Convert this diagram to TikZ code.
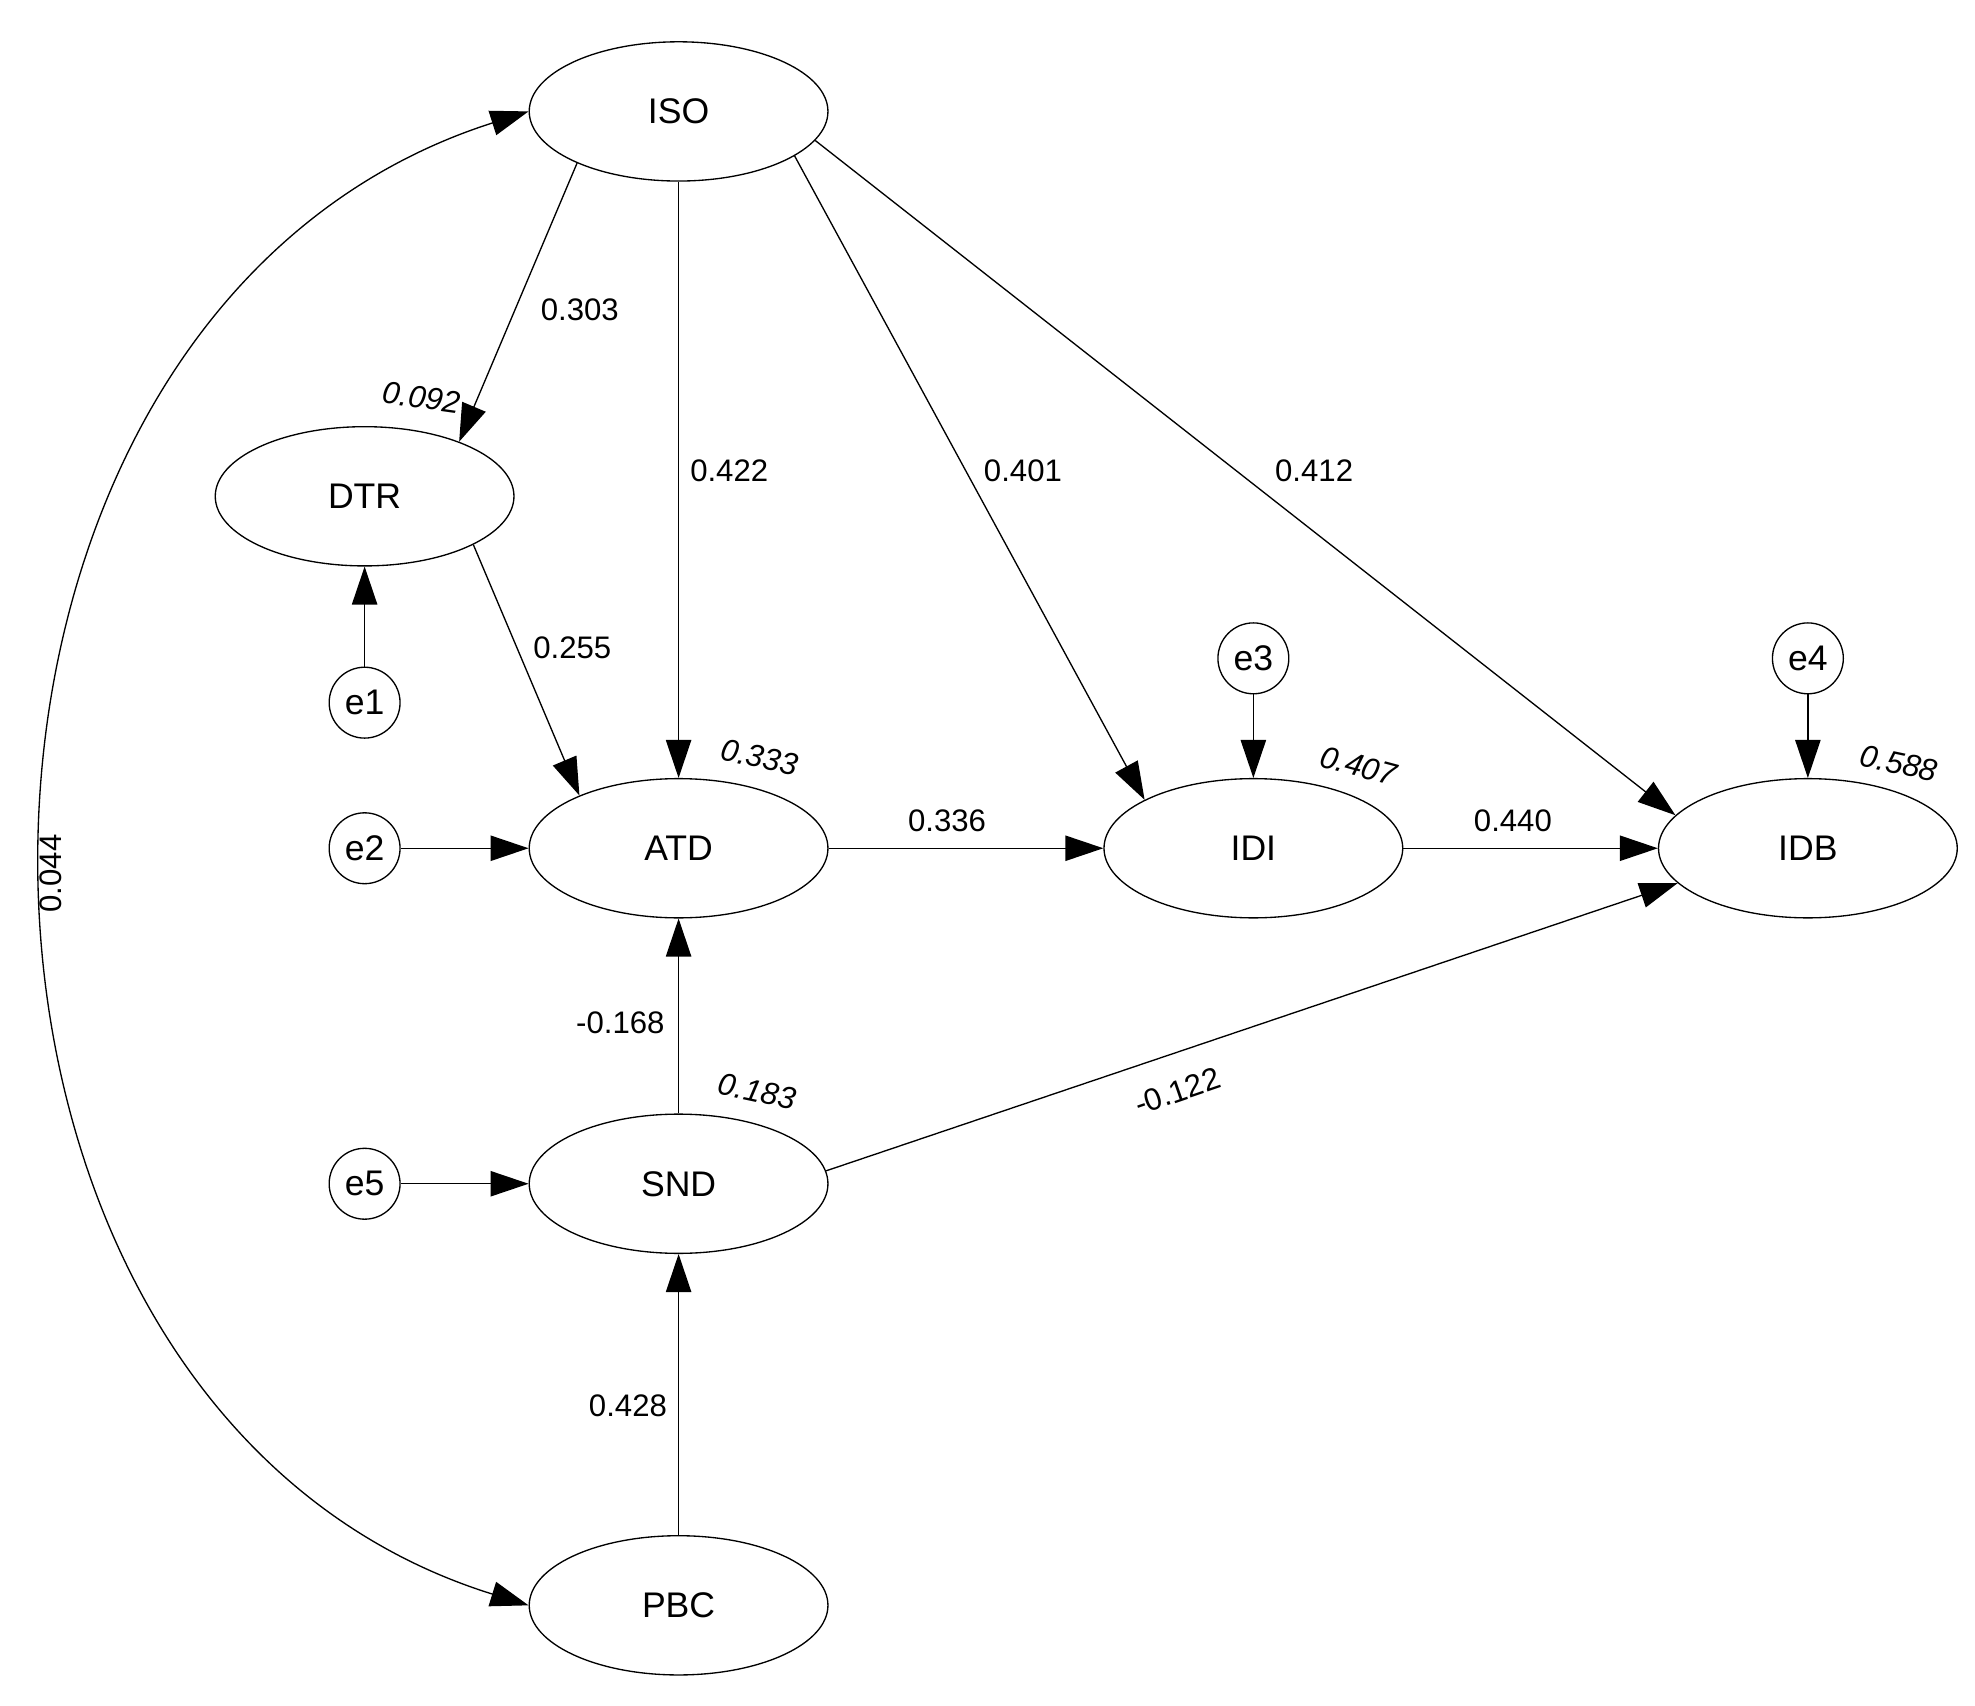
\documentclass[tikz,border=0pt]{standalone}
\usepackage{fontspec}
\setmainfont{Liberation Sans}
\usetikzlibrary{arrows.meta,shapes.geometric}
\begin{document}
\begin{tikzpicture}[x=0.02cm,y=-0.02cm,
  lat/.style={draw,ellipse,minimum width=4.72cm,minimum height=2.2cm,inner sep=0pt,font=\fontsize{16}{19}\selectfont},
  err/.style={draw,circle,minimum size=1.12cm,inner sep=0pt,font=\fontsize{16}{19}\selectfont},
  lab/.style={font=\fontsize{14}{17}\selectfont},
  rsq/.style={font=\fontsize{14}{17}\selectfont\itshape},
  arr/.style={-{Triangle[length=0.6cm,width=0.4cm]},line width=0.6pt},
  line width=0.6pt]
\useasboundingbox (0,0) rectangle (1560,1347);
\node[lat] (ISO) at (536,88) {ISO};
\node[lat] (DTR) at (288,392) {DTR};
\node[lat] (ATD) at (536,670) {ATD};
\node[lat] (IDI) at (990,670) {IDI};
\node[lat] (IDB) at (1428,670) {IDB};
\node[lat] (SND) at (536,935) {SND};
\node[lat] (PBC) at (536,1268) {PBC};
\node[err] (e1) at (288,555) {e1};
\node[err] (e2) at (288,670) {e2};
\node[err] (e3) at (990,520) {e3};
\node[err] (e4) at (1428,520) {e4};
\node[err] (e5) at (288,935) {e5};
\draw[arr] (ISO.207) -- (DTR.30);
\draw[arr] (ISO) -- (ATD);
\draw[arr] (ISO.-21) -- (IDI.156);
\draw[arr] (ISO.-12) -- (IDB.166);
\draw[arr] (DTR.-24) -- (ATD.152);
\draw[arr] (e1) -- (DTR);
\draw[arr] (e2) -- (ATD);
\draw[arr] (e3) -- (IDI);
\draw[arr] (e4) -- (IDB);
\draw[arr] (e5) -- (SND);
\draw[arr] (ATD) -- (IDI);
\draw[arr] (IDI) -- (IDB);
\draw[arr] (SND) -- (ATD);
\draw[arr] (PBC) -- (SND);
\draw[arr] (SND.5) -- (IDB.-165);
\draw[{Triangle[length=0.6cm,width=0.4cm]}-{Triangle[length=0.6cm,width=0.4cm]}] (ISO.west) .. controls (-90,250) and (-90,1110) .. (PBC.west);
\node[lab,rotate=90] (c1) at (40,690) {0.044};
\node[lab] (l1) at (458,245) {0.303};
\node[lab] (l2) at (576,372) {0.422};
\node[lab] (l3) at (808,372) {0.401};
\node[lab] (l4) at (1038,372) {0.412};
\node[lab] (l5) at (452,512) {0.255};
\node[lab] (l6) at (748,648) {0.336};
\node[lab] (l7) at (1195,648) {0.440};
\node[lab] (l8) at (490,808) {-0.168};
\node[lab] (l9) at (496,1110) {0.428};
\node[lab,rotate=19] (l10) at (930,862) {-0.122};
\node[rsq,rotate=-8] (r1) at (333,314) {0.092};
\node[rsq,rotate=-12] (r2) at (600,598) {0.333};
\node[rsq,rotate=-15] (r3) at (1073,605) {0.407};
\node[rsq,rotate=-12] (r4) at (1500,603) {0.588};
\node[rsq,rotate=-12] (r5) at (598,862) {0.183};
\end{tikzpicture}
\end{document}
